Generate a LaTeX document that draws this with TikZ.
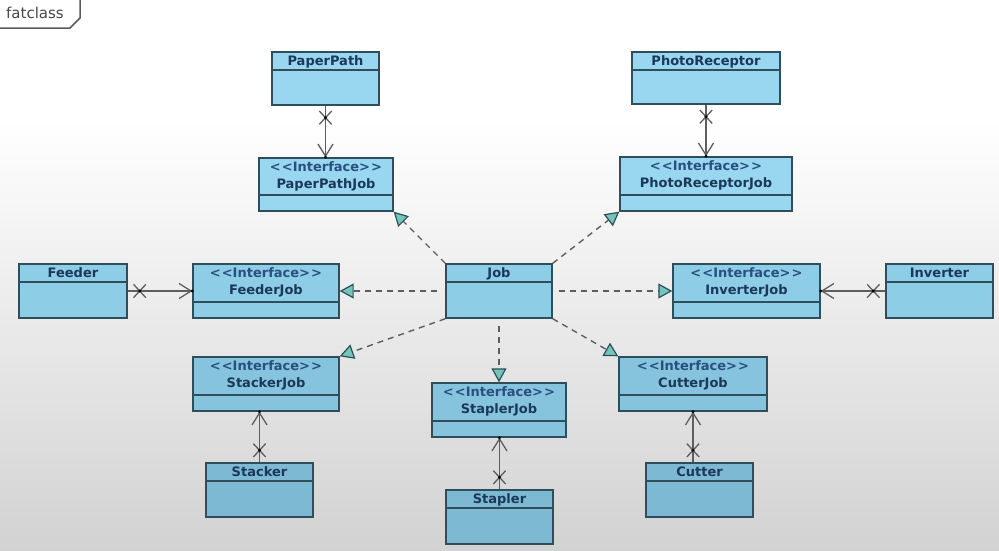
\documentclass[tikz,border=0pt]{standalone}
\usepackage{fontspec}
\setmainfont{DejaVu Sans}
\usetikzlibrary{arrows.meta,calc,fit,shapes.misc}
\definecolor{bordc}{HTML}{2E4E5C}
\definecolor{txtc}{HTML}{1B3858}
\definecolor{ifc}{HTML}{2A4F80}
\definecolor{linec}{HTML}{5E5E5E}
\definecolor{tric}{HTML}{74C4BA}
\definecolor{fillA}{HTML}{98D7EF}
\definecolor{fillB}{HTML}{8ECDE6}
\definecolor{fillC}{HTML}{86C4DD}
\definecolor{fillD}{HTML}{7DB9D2}
\definecolor{bgbot}{HTML}{D2D2D2}
\definecolor{tabc}{HTML}{5A5A5A}
\tikzset{
  box/.style={draw=bordc, line width=1.4pt, inner sep=0pt, rectangle},
  divline/.style={draw=bordc, line width=1.4pt},
  ctext/.style={font=\fontsize{13}{15}\selectfont\bfseries, text=txtc, inner sep=0pt},
  stext/.style={font=\fontsize{13}{15}\selectfont\bfseries, text=ifc, inner sep=0pt},
  assoc/.style={draw=linec, line width=1.3pt, -{Straight Barb[length=12pt,width=15pt,line width=1.3pt]}},
  xmk/.style={cross out, draw=linec, line width=1.3pt, inner sep=0pt, minimum width=11pt, minimum height=12pt},
  real/.style={draw=linec, line width=1.4pt, dash pattern=on 6pt off 5pt,
    -{Triangle[length=14pt,width=15pt,line width=1.2pt,color=bordc,fill=tric]}},
}
\newcommand{\plaincls}[7]{%
  \node[box, fill=#6, fit={(#2,#3) (#4,#5)}] (#1) {};
  \draw[divline] (#2,#3+18) -- (#4,#3+18);
  \node[ctext, anchor=base] (#1-name) at ($(#1.north)+(0,14)$) {#7};
}
\newcommand{\ifcls}[7]{%
  \node[box, fill=#6, fit={(#2,#3) (#4,#5)}] (#1) {};
  \draw[divline] (#2,#5-16) -- (#4,#5-16);
  \node[stext, anchor=base] (#1-st) at ($(#1.north)+(0,14)$) {<\kern1pt<Interface>\kern1pt>};
  \node[ctext, anchor=base] (#1-name) at ($(#1.north)+(0,31)$) {#7};
}
\newcommand{\assocx}[3]{% #1 start point, #2 end point, #3 name
  \draw[assoc] (#1) -- (#2);
  \node[xmk] (#3) at ($(#1)!12pt!(#2)$) {};
  \fill[black] (#3) circle (1.6pt);
  \fill[black] (#2) circle (1.6pt);
}
\begin{document}
\begin{tikzpicture}[x=1pt,y=-1pt]
\useasboundingbox (0,0) rectangle (999,550);
\fill[white] (0,0) rectangle (999,550);
\shade[top color=white, bottom color=bgbot] (0,120) rectangle (999,550);

% frame label
\draw[tabc, line width=1.5pt] (0,28) -- (70,28) -- (80,18) -- (80,0);
\node[font=\fontsize{15}{18}\selectfont, text=tabc!80!black, anchor=base west, inner sep=0pt] (title) at (6,18) {fatclass};

% classes
\plaincls{paperpath}{272}{52}{379}{105}{fillA}{PaperPath}
\plaincls{photoreceptor}{632}{52}{780}{104}{fillA}{PhotoReceptor}
\ifcls{paperpathjob}{259}{158}{393}{211}{fillA}{PaperPathJob}
\ifcls{photoreceptorjob}{620}{157}{792}{211}{fillA}{PhotoReceptorJob}
\plaincls{feeder}{19}{264}{127}{318}{fillB}{Feeder}
\ifcls{feederjob}{193}{264}{339}{318}{fillB}{FeederJob}
\plaincls{job}{446}{264}{552}{318}{fillB}{Job}
\ifcls{inverterjob}{673}{264}{820}{318}{fillB}{InverterJob}
\plaincls{inverter}{886}{264}{993}{318}{fillB}{Inverter}
\ifcls{stackerjob}{193}{357}{339}{411}{fillC}{StackerJob}
\ifcls{cutterjob}{619}{357}{767}{411}{fillC}{CutterJob}
\ifcls{staplerjob}{432}{383}{566}{437}{fillC}{StaplerJob}
\plaincls{stacker}{206}{463}{313}{517}{fillD}{Stacker}
\plaincls{cutter}{646}{463}{753}{517}{fillD}{Cutter}
\plaincls{stapler}{446}{490}{553}{544}{fillD}{Stapler}

% realizations
\draw[real] (job.north west) -- (paperpathjob.south east);
\draw[real] (job.north east) -- (photoreceptorjob.south west);
\draw[real, shorten <=8pt] (job.west) -- (feederjob.east);
\draw[real, shorten <=6pt] (job.east) -- (inverterjob.west);
\draw[real] (job.south west) -- (stackerjob.north east);
\draw[real] (job.south east) -- (cutterjob.north west);
\draw[real, shorten <=7pt] (job.south) -- (staplerjob.north);

% associations
\coordinate (ppA) at (paperpath.south);
\coordinate (ppB) at (paperpath.south |- paperpathjob.north);
\assocx{ppA}{ppB}{xpp}
\coordinate (prA) at (photoreceptor.south);
\coordinate (prB) at (photoreceptor.south |- photoreceptorjob.north);
\assocx{prA}{prB}{xpr}
\coordinate (feA) at (feeder.east);
\coordinate (feB) at (feeder.east -| feederjob.west);
\assocx{feA}{feB}{xfe}
\coordinate (inA) at (inverter.west);
\coordinate (inB) at (inverter.west -| inverterjob.east);
\assocx{inA}{inB}{xin}
\coordinate (stA) at (stacker.north);
\coordinate (stB) at (stacker.north |- stackerjob.south);
\assocx{stA}{stB}{xst}
\coordinate (spA) at (stapler.north);
\coordinate (spB) at (stapler.north |- staplerjob.south);
\assocx{spA}{spB}{xsp}
\coordinate (cuA) at (cutterjob.south |- cutter.north);
\coordinate (cuB) at (cutterjob.south);
\assocx{cuA}{cuB}{xcu}
\end{tikzpicture}
\end{document}
